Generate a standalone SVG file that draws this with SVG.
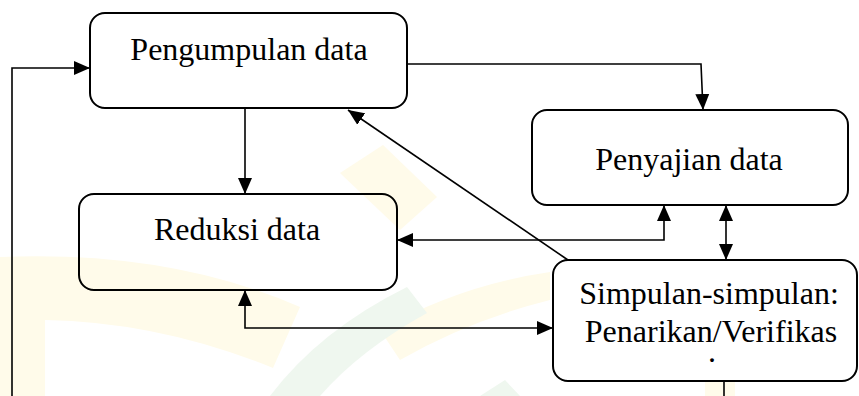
<svg xmlns="http://www.w3.org/2000/svg" width="859" height="396" viewBox="0 0 859 396">
<style>
.box{fill:none;stroke:#000;stroke-width:2}
.lbl{font-family:'Liberation Serif','Times New Roman','DejaVu Serif',serif;font-size:32px;fill:#000;text-anchor:middle}
.con{fill:none;stroke:#000;stroke-width:1.6}
.wy{fill:#fffbea}
.wg{fill:#eff7ef}
</style>
<defs>
<marker id="ah" markerUnits="userSpaceOnUse" markerWidth="17" markerHeight="15" refX="16" refY="7" orient="auto-start-reverse" viewBox="0 0 17 14">
<path d="M0,0 L16,7 L0,14 z" fill="#000"/>
</marker>
</defs>
<rect width="859" height="396" fill="#fff"/>
<g id="watermark">
<path class="wy" d="M0,257 Q170,250 300,307 L273,368 Q160,322 45,320 L45,396 L0,396 z"/>
<path class="wy" d="M383,145 L437,197 L400,230 L340,173 z"/>
<path class="wy" d="M380,330 Q460,285 550,272 L550,300 Q470,320 400,360 z"/>
<path class="wg" d="M407,287 L427,313 Q360,350 320,396 L270,396 Q320,330 407,287 z"/>
<path class="wg" d="M480,396 L505,380 L520,396 z"/>
<rect class="wy" x="705" y="382" width="30" height="14"/>
</g>
<g id="connectors">
<path class="con" d="M12,396 V68 H90" marker-end="url(#ah)"/>
<path class="con" d="M245,108 V194" marker-end="url(#ah)"/>
<path class="con" d="M407,64 H701 L703,110" marker-end="url(#ah)"/>
<path class="con" d="M568,260 L348,110" marker-end="url(#ah)"/>
<path class="con" d="M397,240 H664 V205" marker-start="url(#ah)" marker-end="url(#ah)"/>
<path class="con" d="M726,205 V260" marker-start="url(#ah)" marker-end="url(#ah)"/>
<path class="con" d="M245,290 V328 H553" marker-start="url(#ah)" marker-end="url(#ah)"/>
<path class="con" d="M724,381 V396"/>
</g>
<g id="pengumpulan">
<rect class="box" x="90" y="13" width="317" height="95" rx="15"/>
<text class="lbl" x="249" y="60" font-family="'Liberation Serif', serif">Pengumpulan data</text>
</g>
<g id="penyajian">
<rect class="box" x="532" y="110" width="316" height="95" rx="15"/>
<text class="lbl" x="689" y="170" font-family="'Liberation Serif', serif">Penyajian data</text>
</g>
<g id="reduksi">
<rect class="box" x="79" y="194" width="318" height="96" rx="15"/>
<text class="lbl" x="237" y="240" font-family="'Liberation Serif', serif">Reduksi data</text>
</g>
<g id="simpulan">
<rect class="box" x="553" y="260" width="304" height="121" rx="15"/>
<text class="lbl" x="709" y="304" font-family="'Liberation Serif', serif">Simpulan-simpulan:</text>
<text class="lbl" x="711" y="342" font-family="'Liberation Serif', serif">Penarikan/Verifikas</text>
<text class="lbl" x="712" y="362" font-size="20" font-family="'Liberation Serif', serif">.</text>
</g>
</svg>
